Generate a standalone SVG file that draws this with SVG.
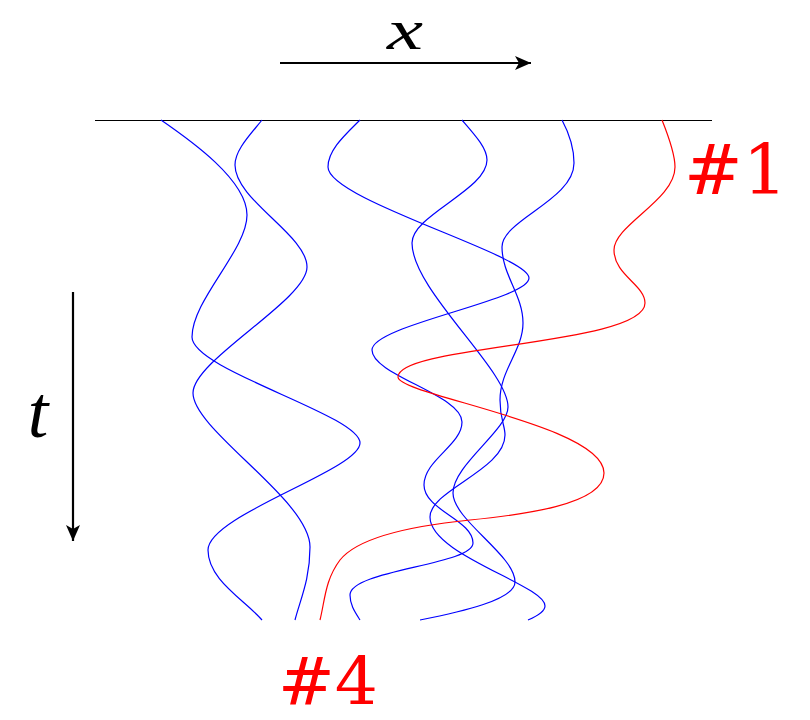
<svg xmlns="http://www.w3.org/2000/svg" width="810" height="720" viewBox="0 0 810 720">
<style>
.axis{stroke:#000;stroke-width:2.2;fill:none}
.base{stroke:#000;stroke-width:1;fill:none}
.blue{stroke:#0000ff;stroke-width:1.2;fill:none}
.red{stroke:#ff0000;stroke-width:1.2;fill:none}
.math{font-family:"Liberation Serif","Times New Roman",serif;font-style:italic;fill:#000}
.lbl{font-family:"DejaVu Serif","Liberation Serif",serif;fill:#ff0000}
</style>
<defs>
<marker id="stealth" viewBox="0 0 16 14" refX="16" refY="7" markerWidth="16" markerHeight="14" markerUnits="userSpaceOnUse" orient="auto">
<path d="M0,0 L16,7 L0,14 L4,7 z" fill="#000"/>
</marker>
</defs>
<rect width="810" height="720" fill="#fff"/>
<g id="axes">
<line class="axis" x1="280" y1="63" x2="531" y2="63" marker-end="url(#stealth)"/>
<text class="math" x="387" y="49" font-size="56" textLength="36" lengthAdjust="spacingAndGlyphs">x</text>
<line class="axis" x1="73" y1="292" x2="73" y2="541" marker-end="url(#stealth)"/>
<text class="math" x="38" y="437" font-size="74" text-anchor="middle">t</text>
<line class="base" x1="95" y1="120.5" x2="712" y2="120.5"/>
</g>
<g id="connectors">
<g id="pathA"><path class="blue" d="M161,120 C190,140 247,180 247,215 C247,250 192,300 192,337 C192,370 360,415 360,443 C360,470 208,515 208,550 C208,580 245,600 262,620"/></g>
<g id="pathB"><path class="blue" d="M262,120 C250,135 235,150 235,165 C235,200 307,235 307,267 C307,300 193,360 193,393 C193,430 310,500 310,547 C310,580 300,600 295,620"/></g>
<g id="pathC"><path class="blue" d="M360,120 C345,135 328,150 328,167 C328,200 529,255 529,278 C529,300 372,325 372,350 C372,375 462,395 462,422 C462,445 424,460 424,485 C424,510 473,520 473,543 C473,565 350,570 350,595 C350,605 355,612 360,620"/></g>
<g id="pathD"><path class="blue" d="M462,120 C475,135 487,148 487,160 C487,190 412,215 412,243 C412,290 508,370 508,407 C508,430 453,465 453,493 C453,520 515,555 515,582 C515,600 460,612 420,620"/></g>
<g id="pathE"><path class="blue" d="M562,120 C570,135 574,150 574,163 C574,200 502,220 502,247 C502,275 523,295 523,323 C523,350 500,370 500,400 C500,420 505,425 505,435 C505,470 430,490 430,517 C430,555 545,585 545,606 C545,612 535,617 528,620"/></g>
<g id="pathF"><path class="red" d="M662,120 C670,140 675,155 675,167 C675,200 614,225 614,250 C614,275 645,285 645,303 C645,345 398,345 398,377 C398,395 604,425 604,473 C604,505 520,515 470,520 C420,525 360,535 340,560 C325,580 325,600 320,620"/></g>
</g>
<g id="label1"><text class="lbl" x="684" y="194" font-size="70">#1</text></g>
<g id="label4"><text class="lbl" x="278" y="704" font-size="66" textLength="100" lengthAdjust="spacingAndGlyphs">#4</text></g>
</svg>
